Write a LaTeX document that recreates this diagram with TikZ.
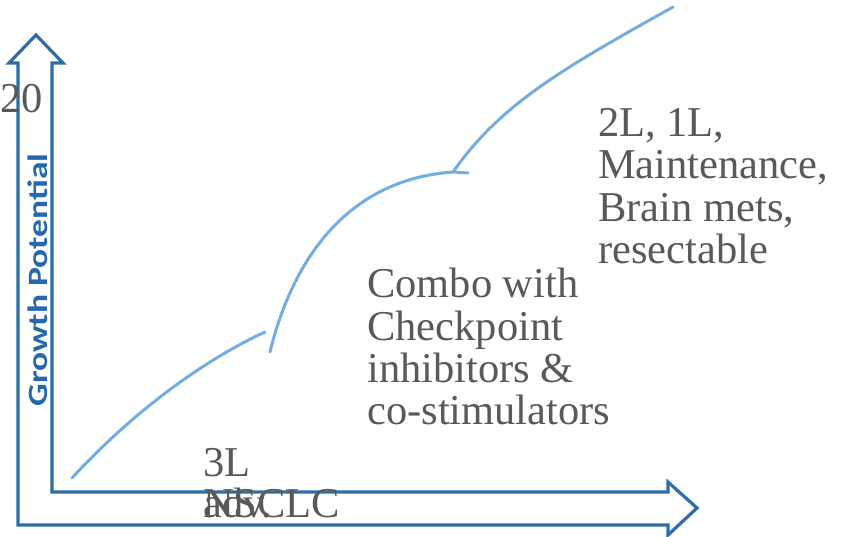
\documentclass[tikz,border=0pt]{standalone}
\usepackage{fontspec}
\setmainfont{Liberation Serif}
\newfontfamily\labfont{Carlito}
\definecolor{axisblue}{HTML}{2E6DA8}
\definecolor{curveblue}{HTML}{74ADDF}
\definecolor{labblue}{HTML}{2568B2}
\definecolor{txtgray}{HTML}{595959}
\tikzset{
  axisshape/.style={draw=axisblue, line width=3.2pt, line join=miter, fill=white},
  growth/.style={draw=curveblue, line width=3pt, line cap=round},
  lbl/.style={text=txtgray, inner sep=0pt, font=\fontsize{42.5}{42.5}\selectfont, align=left},
  ylab/.style={text=labblue, inner sep=0pt, font=\labfont\bfseries\fontsize{28}{30}\selectfont, rotate=90}
}
\begin{document}
\begin{tikzpicture}[x=1pt,y=-1pt]
\useasboundingbox (0,0) rectangle (847,537);
% axes (L-shaped hollow double arrow)
\draw[axisshape] (18,525) -- (18,63) -- (9,63) -- (36,35) -- (63,63) -- (52,63)
  -- (52,492) -- (668,492) -- (668,482) -- (697,508) -- (668,535) -- (668,525) -- cycle;
\node[ylab] (ylabel) at (38,280) {\scalebox{1.27}[1]{Growth Potential}};
% growth curve segments
\draw[growth] (72,478) .. controls (130,415) and (200,362) .. (265,332);
\draw[growth] (270,352) .. controls (290,270) and (340,180) .. (453,172) -- (468,173);
\draw[growth] (453,172) .. controls (500,105) and (560,70) .. (673,7);
% labels
\node[lbl, anchor=base west] (twenty) at (0,113) {20};
\node[lbl, anchor=base west] (threeL) at (203,477) {3L};
\node[lbl, anchor=base west] (adv) at (203,518) {adv.};
\node[lbl, anchor=base west] (nsclc) at (203,518) {NSCLC};
\node[lbl, anchor=base west] (combo) at (367,425) {Combo with\\Checkpoint\\inhibitors \&\\co-stimulators};
\node[lbl, anchor=base west] (lines) at (598,264) {2L, 1L,\\Maintenance,\\Brain mets,\\resectable};
\end{tikzpicture}
\end{document}
